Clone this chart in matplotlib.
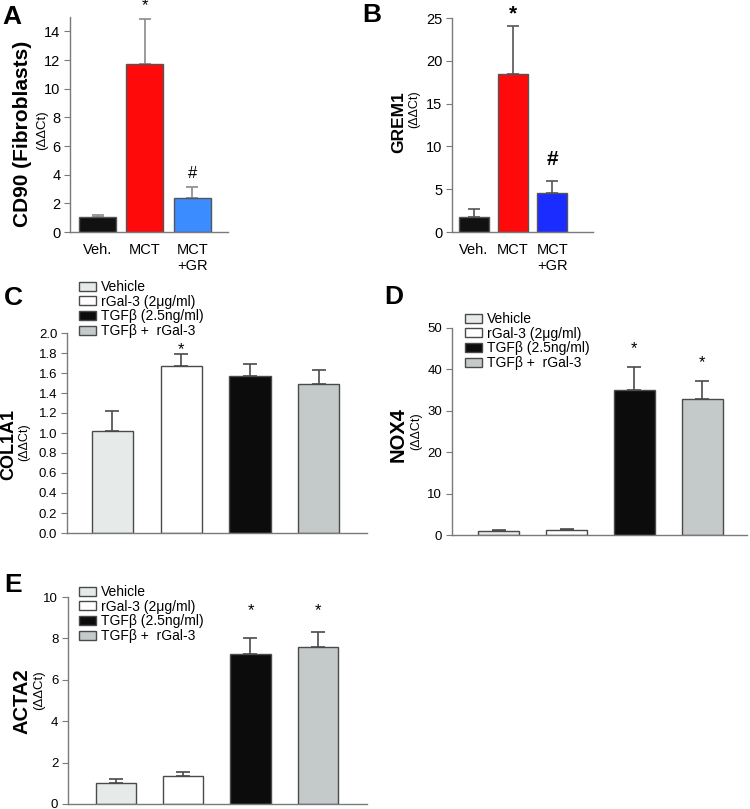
import numpy as np
import matplotlib
matplotlib.use("Agg")
import matplotlib.pyplot as plt

plt.rcParams['font.family'] = ['Liberation Sans', 'DejaVu Sans']

#  Panel A / B data
ab_groups = ["Veh.", "MCT", "MCT\n+GR"]
cd90_mean = [1.05, 11.7, 2.35]
cd90_top = [1.2, 14.85, 3.15]
grem1_mean = [1.7, 18.4, 4.5]
grem1_top = [2.7, 24.1, 5.9]
ab_stars = ["", "*", ""]
ab_hash = ["", "", "#"]

#  Panel C / D / E data
treatments = ["Vehicle", "rGal-3 (2\u03bcg/ml)", "TGF\u03b2 (2.5ng/ml)", "TGF\u03b2 +  rGal-3"]
col1a1_mean = [1.02, 1.67, 1.57, 1.49]
col1a1_top = [1.22, 1.79, 1.69, 1.63]
col1a1_marks = ["", "*", "", ""]
nox4_mean = [1.0, 1.1, 35.0, 32.9]
nox4_top = [1.15, 1.35, 40.5, 37.1]
nox4_marks = ["", "", "*", "*"]
acta2_mean = [1.02, 1.33, 7.25, 7.6]
acta2_top = [1.2, 1.55, 8.0, 8.33]
acta2_marks = ["", "", "*", "*"]

W, H = 750, 809
fig = plt.figure(figsize=(7.5, 8.09), dpi=100)

def px_axes(l, r, t, b):
    return fig.add_axes([l/W, 1 - b/H, (r - l)/W, (b - t)/H])

def style(ax):
    for s in ["top", "right"]:
        ax.spines[s].set_visible(False)
    for s in ["left", "bottom"]:
        ax.spines[s].set_color("#7a7a7a")
        ax.spines[s].set_linewidth(1.0)
    ax.tick_params(axis="y", direction="out", length=4, color="#7a7a7a", pad=3)
    ax.tick_params(axis="x", length=0)

def bars(ax, mean, top, colors, edge, width, ecol, cap):
    x = np.arange(len(mean))
    ax.bar(x, mean, width=width, color=colors, edgecolor=edge, linewidth=1.0, zorder=2)
    err = np.array(top) - np.array(mean)
    ax.errorbar(x, mean, yerr=[np.zeros_like(err), err], fmt="none",
                ecolor=ecol, elinewidth=1.2, capsize=cap, capthick=1.2, zorder=1)
    return x

def stars(ax, x, top, marks, dy, fs, bold=False):
    for xi, t, m in zip(x, top, marks):
        if m:
            ax.annotate(m, (xi, t), xytext=(0, dy), textcoords="offset points",
                        ha="center", va="bottom", fontsize=fs,
                        fontweight="bold" if bold else "normal",
                        annotation_clip=False)

def ylab(xb, yb, big, fs, xs, ys, fs2):
    fig.text(xb/W, 1 - yb/H, big, rotation=90, ha="center", va="center",
             fontsize=fs, fontweight="bold")
    fig.text(xs/W, 1 - ys/H, "(\u0394\u0394Ct)", rotation=90, ha="center",
             va="center", fontsize=fs2)

#  A
ax = px_axes(70, 228, 17, 232)
style(ax)
x = bars(ax, cd90_mean, cd90_top, ["#111111", "#ff0a0a", "#3a8cff"], "#555555",
         0.78, "#8a8a8a", 4)
ax.set_xlim(-0.58, 2.75)
ax.set_ylim(0, 15)
ax.set_yticks(range(0, 15, 2))
ax.set_xticks(x)
ax.set_xticklabels(ab_groups, fontsize=10.5)
ax.tick_params(axis="x", pad=8)
ax.tick_params(axis="y", labelsize=10.5)
stars(ax, x, cd90_top, ab_stars, 4, 12)
stars(ax, x, cd90_top, ab_hash, 4, 12)
ylab(23, 134, "CD90 (Fibroblasts)", 15, 42.5, 130, 9.5)
fig.text(2/W, 1 - 17/H, "A", fontsize=19, fontweight="bold", va="center")

#  B
ax = px_axes(452, 593, 18, 232)
style(ax)
x = bars(ax, grem1_mean, grem1_top, ["#111111", "#ff0a0a", "#1a2cff"], "#555555",
         0.76, "#555555", 4)
ax.set_xlim(-0.55, 3.04)
ax.set_ylim(0, 25)
ax.set_yticks(range(0, 26, 5))
ax.set_xticks(x)
ax.set_xticklabels(ab_groups, fontsize=10.5)
ax.tick_params(axis="x", pad=8)
ax.tick_params(axis="y", labelsize=10.5)
stars(ax, x, grem1_top, ab_stars, 2, 15, bold=True)
stars(ax, x, grem1_top, ab_hash, 9, 15, bold=True)
ylab(398.5, 122, "GREM1", 12.5, 414, 109, 9)
fig.text(362/W, 1 - 15/H, "B", fontsize=19, fontweight="bold", va="center")

cde_colors = ["#e6ebe9", "#ffffff", "#0c0c0c", "#c4cac9"]

def cde(ax, mean, top, marks, dy):
    style(ax)
    x = bars(ax, mean, top, cde_colors, "#4a4a4a", 0.6, "#4a4a4a", 5)
    ax.set_xticks([])
    ax.tick_params(axis="y", labelsize=9.5)
    stars(ax, x, top, marks, dy, 12)
    return x

def legend(ax, lx, ty):
    handles = [plt.Rectangle((0, 0), 1, 1, facecolor=c, edgecolor="#4a4a4a", linewidth=1)
               for c in cde_colors]
    ax.legend(handles, treatments, loc="upper left",
              bbox_to_anchor=(lx/W, 1 - ty/H), bbox_transform=fig.transFigure,
              frameon=False, fontsize=10, handlelength=1.2, handleheight=0.6,
              handletextpad=0.4, labelspacing=0.05, borderpad=0, borderaxespad=0)

#  C
ax = px_axes(67, 367, 333, 533)
cde(ax, col1a1_mean, col1a1_top, col1a1_marks, -2)
ax.set_xlim(-0.66, 3.70)
ax.set_ylim(0, 2.0)
ax.set_yticks(np.arange(0, 2.01, 0.2))
ax.set_yticklabels(["%.1f" % v for v in np.arange(0, 2.01, 0.2)])
legend(ax, 79, 280)
ylab(9, 444, "COL1A1", 13, 24, 442, 9)
fig.text(4/W, 1 - 298/H, "C", fontsize=19, fontweight="bold", va="center")

#  D
ax = px_axes(452, 747, 328, 535)
cde(ax, nox4_mean, nox4_top, nox4_marks, 8)
ax.set_xlim(-0.69, 3.66)
ax.set_ylim(0, 50)
ax.set_yticks(range(0, 51, 10))
legend(ax, 465, 312)
ylab(398.5, 435, "NOX4", 14.5, 416, 431, 9)
fig.text(384/W, 1 - 297/H, "D", fontsize=19, fontweight="bold", va="center")

#  E
ax = px_axes(68, 367, 597, 804)
x = cde(ax, acta2_mean, acta2_top, [""] * 4, 0)
ax.set_xlim(-0.71, 3.73)
ax.set_ylim(0, 10)
ax.set_yticks(range(0, 11, 2))
for xi, m in zip(x, acta2_marks):
    if m:
        ax.text(xi, 9.0, m, ha="center", va="bottom", fontsize=12)
legend(ax, 79, 585)
ylab(22.5, 701, "ACTA2", 14.5, 39, 690, 9.5)
fig.text(4/W, 1 - 585/H, "E", fontsize=19, fontweight="bold", va="center")

fig.savefig("out.png", dpi=100)
